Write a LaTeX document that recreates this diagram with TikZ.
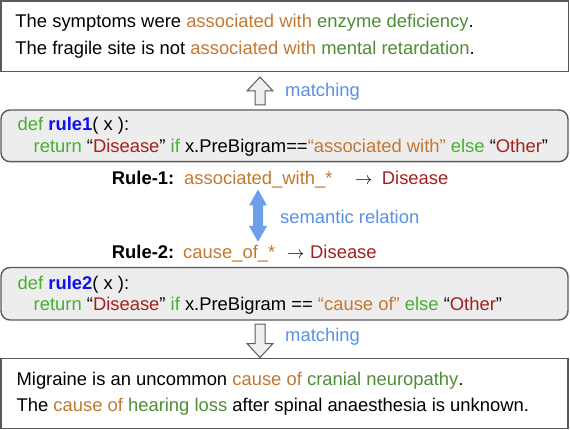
\documentclass[tikz,border=0pt]{standalone}
\usepackage{fontspec}
\setmainfont{Liberation Sans}
\definecolor{orng}{HTML}{C27830}
\definecolor{sgreen}{HTML}{4E8C36}
\definecolor{cgreen}{HTML}{46B030}
\definecolor{dred}{HTML}{A3201F}
\definecolor{kblue}{HTML}{1010F0}
\definecolor{lblue}{HTML}{5A8FE6}
\definecolor{darrow}{HTML}{6D9EEB}
\definecolor{boxgray}{HTML}{5A5A5A}
\definecolor{codefill}{HTML}{EDEDED}
\definecolor{arrowfill}{HTML}{EFEFEF}
\begin{document}
\begin{tikzpicture}[x=1pt,y=-1pt,
  txt/.style={anchor=base west, inner sep=0pt, font=\fontsize{18.4}{22}\selectfont},
  plainbox/.style={draw=boxgray, line width=1.6pt, inner sep=0pt},
  codebox/.style={draw=boxgray, fill=codefill, line width=1.4pt, rounded corners=9pt, inner sep=0pt},
  blockarrow/.style={draw=boxgray, fill=arrowfill, line width=1pt, line join=miter},
  dblarrow/.style={fill=darrow, draw=none}]
\useasboundingbox (0,0) rectangle (570,430);

% boxes
\node[plainbox, minimum width=567.5pt, minimum height=70.5pt] (topbox) at (284.75,36.25) {};
\node[codebox, minimum width=567pt, minimum height=51.7pt] (codeA) at (284.5,135.85) {};
\node[codebox, minimum width=567pt, minimum height=52.5pt] (codeB) at (284.5,293.75) {};
\node[plainbox, minimum width=567pt, minimum height=70pt] (botbox) at (284.5,393.5) {};

% top sentences
\node[txt] (s1) at (15.3,28) {The symptoms were \textcolor{orng}{associated with} \textcolor{sgreen}{enzyme deficiency}.};
\node[txt] (s2) at (15.3,55) {The fragile site is not \textcolor{orng}{associated with} \textcolor{sgreen}{mental retardation}.};

% up arrow
\draw[blockarrow] (260,77) -- (273,91) -- (265,91) -- (265,105) -- (255,105) -- (255,91) -- (247,91) -- cycle;
\node[txt, text=lblue] (m1) at (285,96.7) {matching};

% code A
\node[txt] (a1) at (17.5,131) {\textcolor{cgreen}{def} \textcolor{kblue}{\bfseries rule1}( x ):};
\node[txt] (a2) at (33.5,152.5) {\textcolor{cgreen}{return} “\textcolor{dred}{Disease}” \textcolor{cgreen}{if} x.PreBigram==\textcolor{orng}{“associated with”} \textcolor{cgreen}{else} “\textcolor{dred}{Other}”};

% rules
\node[txt, font=\fontsize{18.4}{22}\selectfont\bfseries] (r1) at (111.7,185) {Rule-1:};
\node[txt, text=orng] (r1p) at (184,185) {associated\_with\_*};
\node[txt] (r1a) at (355,185) {$\rightarrow$};
\node[txt, text=dred] (r1d) at (381.7,185) {Disease};

\path[dblarrow] (258,189.5) -- (267,205.5) -- (263,205.5) -- (263,226) -- (267,226) -- (258,241.7) -- (249,226) -- (253,226) -- (253,205.5) -- (249,205.5) -- cycle;
\node[txt, text=lblue] (sem) at (280,223.3) {semantic relation};

\node[txt, font=\fontsize{18.4}{22}\selectfont\bfseries] (r2) at (111.7,258.3) {Rule-2:};
\node[txt, text=orng] (r2p) at (183,258.3) {cause\_of\_*};
\node[txt] (r2a) at (287,258.3) {$\rightarrow$};
\node[txt, text=dred] (r2d) at (310,258.3) {Disease};

% code B
\node[txt] (b1) at (17.5,289.5) {\textcolor{cgreen}{def} \textcolor{kblue}{\bfseries rule2}( x ):};
\node[txt] (b2) at (33.5,310) {\textcolor{cgreen}{return} “\textcolor{dred}{Disease}” \textcolor{cgreen}{if} x.PreBigram == \textcolor{orng}{“cause of”} \textcolor{cgreen}{else} “\textcolor{dred}{Other}”};

% down arrow
\draw[blockarrow] (255,324) -- (265,324) -- (265,343.5) -- (273,343.5) -- (260,357.5) -- (247,343.5) -- (255,343.5) -- cycle;
\node[txt, text=lblue] (m2) at (285,341.7) {matching};

% bottom sentences
\node[txt] (t1) at (16.4,385.7) {Migraine is an uncommon \textcolor{orng}{cause of} \textcolor{sgreen}{cranial neuropathy}.};
\node[txt] (t2) at (16.4,411) {The \textcolor{orng}{cause of} \textcolor{sgreen}{hearing loss} after spinal anaesthesia is unknown.};
\end{tikzpicture}
\end{document}
